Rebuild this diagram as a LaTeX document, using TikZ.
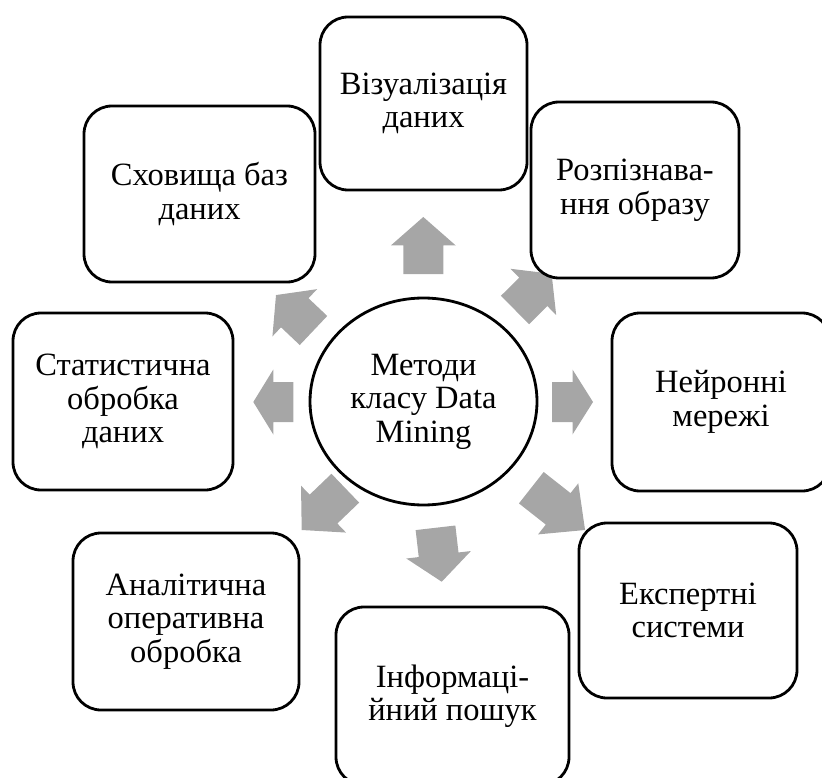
\documentclass[tikz,border=0pt]{standalone}
\usepackage{fontspec}
\setmainfont{Liberation Serif}
\usetikzlibrary{shapes.geometric}
\definecolor{arrgray}{RGB}{166,166,166}
\newcommand{\blockarr}[4]{\fill[arrgray,shift={(#1,#2)},rotate=#3] (0,-20) -- ({#4*0.5},-20) -- ({#4*0.5},-32.5) -- (#4,0) -- ({#4*0.5},32.5) -- ({#4*0.5},20) -- (0,20) -- cycle;}
\begin{document}
\begin{tikzpicture}[x=1pt,y=-1pt,
  txt/.style={align=center, font=\fontsize{32.5}{33.5}\selectfont, inner sep=0pt},
  box/.style={txt, draw=black, line width=2.8pt, rounded corners=28pt, fill=white},
  core/.style={txt, draw=black, line width=2.8pt, ellipse, fill=white}]
\useasboundingbox (0,0) rectangle (822,778);
\clip (0,0) rectangle (822,778);
% block arrows
\blockarr{423.3}{274}{90}{57}
\blockarr{515}{310}{44.7}{51.5}
\blockarr{552}{402}{0}{41}
\blockarr{531.3}{487.7}{-38.2}{68.4}
\blockarr{435.5}{527.8}{-83.4}{54.3}
\blockarr{345.3}{488.2}{223.8}{60.4}
\blockarr{293.3}{402}{180}{40}
\blockarr{313.5}{330.5}{136.6}{51.6}
% centre
\node[core, minimum width=227pt, minimum height=207pt] (dm) at (423.5,401.5) {Методи\\класу Data\\Mining};
% boxes
\node[box, minimum width=207pt, minimum height=173pt] (viz) at (423.5,103.5) {Візуалізація\\даних};
\node[box, minimum width=231pt, minimum height=176pt] (store) at (199.5,194) {Сховища баз\\даних};
\node[box, minimum width=208pt, minimum height=176pt] (recog) at (635,190) {Розпізнава-\\ння образу};
\node[box, minimum width=220pt, minimum height=177pt] (stat) at (123,401.5) {Статистична\\обробка\\даних};
\node[box, minimum width=218pt, minimum height=178pt] (neuro) at (721,402) {Нейронні\\мережі};
\node[box, minimum width=226pt, minimum height=177pt] (olap) at (186,621.5) {Аналітична\\оперативна\\обробка};
\node[box, minimum width=233pt, minimum height=178pt] (info) at (452.5,696) {Інформаці-\\йний пошук};
\node[box, minimum width=218pt, minimum height=175pt] (expert) at (688,610.5) {Експертні\\системи};
\end{tikzpicture}
\end{document}
